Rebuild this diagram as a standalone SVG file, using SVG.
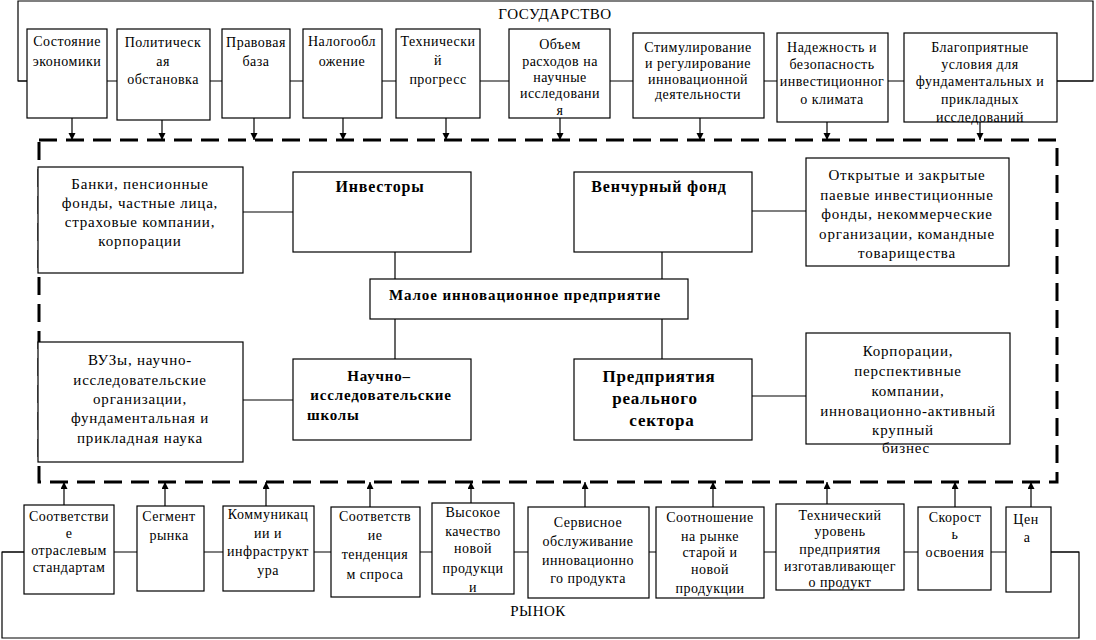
<svg xmlns="http://www.w3.org/2000/svg" width="1096" height="640" viewBox="0 0 1096 640">
<defs>
<marker id="ah" markerUnits="userSpaceOnUse" markerWidth="8" markerHeight="8" refX="7" refY="3.5" orient="auto">
<path d="M0,0 L7,3.5 L0,7 z" fill="#000"/>
</marker>
<style>
text{font-family:"Liberation Serif","Times New Roman",serif;fill:#000;text-anchor:middle}
.s{font-size:14px;letter-spacing:0.5px}
.m{font-size:15px;letter-spacing:0.8px}
.b{font-size:16px;font-weight:bold;letter-spacing:0.8px}
.bb{font-size:17px;font-weight:bold;letter-spacing:0.8px}
.t{font-size:15px;letter-spacing:0.5px}
rect{fill:#fff;stroke:#000;stroke-width:1.2}
rect.bg{stroke:none}
rect.ol{fill:none}
.c line,.c polyline{stroke:#000;stroke-width:1.2;fill:none}
.arr{marker-end:url(#ah)}
.dash{fill:none;stroke:#000;stroke-width:3;stroke-dasharray:18 9}
</style>
</defs>
<rect width="1096" height="640" class="bg"/>

<g id="connectors" class="c">
<polyline points="27,81 18,81 18,1 1093,1 1093,81 1057,81"/>
<line x1="18" y1="81" x2="1093" y2="81"/>
<polyline points="24,552 2,552 2,638 1079,638 1079,552 1051,552"/>
<line x1="2" y1="552" x2="1079" y2="552"/>
<line class="arr" x1="72" y1="118" x2="72" y2="140"/>
<line class="arr" x1="162" y1="120" x2="162" y2="140"/>
<line class="arr" x1="254" y1="118" x2="254" y2="140"/>
<line class="arr" x1="343" y1="118" x2="343" y2="140"/>
<line class="arr" x1="446" y1="118" x2="446" y2="140"/>
<line class="arr" x1="560" y1="118" x2="560" y2="140"/>
<line class="arr" x1="700" y1="118" x2="700" y2="140"/>
<line class="arr" x1="827" y1="122" x2="827" y2="140"/>
<line class="arr" x1="980" y1="122" x2="980" y2="140"/>
<line class="arr" x1="64" y1="505" x2="64" y2="482"/>
<line class="arr" x1="165" y1="506" x2="165" y2="482"/>
<line class="arr" x1="266" y1="506" x2="266" y2="482"/>
<line class="arr" x1="370" y1="507" x2="370" y2="482"/>
<line class="arr" x1="471" y1="503" x2="471" y2="482"/>
<line class="arr" x1="585" y1="507" x2="585" y2="482"/>
<line class="arr" x1="713" y1="507" x2="713" y2="482"/>
<line class="arr" x1="827" y1="504" x2="827" y2="482"/>
<line class="arr" x1="955" y1="507" x2="955" y2="482"/>
<line class="arr" x1="1031" y1="507" x2="1031" y2="482"/>
<line x1="243" y1="212" x2="293" y2="212"/>
<line x1="752" y1="211" x2="806" y2="211"/>
<line x1="395" y1="252" x2="395" y2="279"/>
<line x1="662" y1="252" x2="662" y2="279"/>
<line x1="395" y1="319" x2="395" y2="359"/>
<line x1="662" y1="319" x2="662" y2="359"/>
<line x1="243" y1="400" x2="293" y2="400"/>
<line x1="752" y1="396" x2="806" y2="396"/>
</g>

<g id="state-label"><text class="t" x="555" y="19">ГОСУДАРСТВО</text></g>
<g id="market-label"><text class="t" x="538" y="616">РЫНОК</text></g>

<g id="n-t1"><rect x="27" y="29" width="80" height="89"/><text class="s"><tspan x="67" y="46">Состояние</tspan><tspan x="67" y="66">экономики</tspan></text></g>
<g id="n-t2"><rect x="117" y="29" width="93" height="91"/><text class="s"><tspan x="163" y="47">Политическ</tspan><tspan x="163" y="66">ая</tspan><tspan x="163" y="84">обстановка</tspan></text></g>
<g id="n-t3"><rect x="222" y="29" width="68" height="89"/><text class="s"><tspan x="256" y="47">Правовая</tspan><tspan x="256" y="66">база</tspan></text></g>
<g id="n-t4"><rect x="303" y="29" width="79" height="89"/><text class="s"><tspan x="342" y="46">Налогообл</tspan><tspan x="342" y="66">ожение</tspan></text></g>
<g id="n-t5"><rect x="396" y="29" width="84" height="89"/><text class="s"><tspan x="438" y="46">Технически</tspan><tspan x="438" y="65">й</tspan><tspan x="438" y="84">прогресс</tspan></text></g>
<g id="n-t6"><rect x="509" y="29" width="101" height="89"/><text class="s"><tspan x="560" y="49">Объем</tspan><tspan x="560" y="65.5">расходов на</tspan><tspan x="560" y="82">научные</tspan><tspan x="560" y="98">исследовани</tspan><tspan x="560" y="114.5">я</tspan></text></g>
<g id="n-t7"><rect x="633" y="33" width="131" height="85"/><text class="s"><tspan x="698" y="52">Стимулирование</tspan><tspan x="698" y="68">и регулирование</tspan><tspan x="698" y="84">инновационной</tspan><tspan x="698" y="99">деятельности</tspan></text></g>
<g id="n-t8"><rect x="777" y="33" width="111" height="89"/><text class="s"><tspan x="832" y="52">Надежность и</tspan><tspan x="832" y="69">безопасность</tspan><tspan x="832" y="86">инвестиционног</tspan><tspan x="832" y="104">о климата</tspan></text></g>
<g id="n-t9"><rect class="bg" x="904" y="33" width="153" height="89"/><text class="s"><tspan x="980" y="52">Благоприятные</tspan><tspan x="980" y="69">условия для</tspan><tspan x="980" y="86">фундаментальных и</tspan><tspan x="980" y="104">прикладных</tspan><tspan x="980" y="122">исследований</tspan></text><rect class="ol" x="904" y="33" width="153" height="89"/></g>

<rect class="dash" x="39" y="140" width="1018" height="342"/>

<g id="n-banks"><rect x="38" y="167" width="205" height="106"/><text class="m"><tspan x="140" y="189">Банки, пенсионные</tspan><tspan x="140" y="208">фонды, частные лица,</tspan><tspan x="140" y="227">страховые компании,</tspan><tspan x="140" y="246">корпорации</tspan></text></g>
<g id="n-investors"><rect x="293" y="172" width="178" height="80"/><text class="b" x="380" y="192">Инвесторы</text></g>
<g id="n-venture"><rect x="574" y="172" width="178" height="80"/><text class="b" x="659" y="192">Венчурный фонд</text></g>
<g id="n-funds"><rect x="806" y="158" width="203" height="108"/><text class="m"><tspan x="907" y="180">Открытые и закрытые</tspan><tspan x="907" y="200">паевые инвестиционные</tspan><tspan x="907" y="219">фонды, некоммерческие</tspan><tspan x="907" y="239">организации, командные</tspan><tspan x="907" y="258">товарищества</tspan></text></g>
<g id="n-small"><rect x="370" y="279" width="318" height="40"/><text class="m" x="525" y="300" style="font-weight:bold;letter-spacing:0.9px">Малое  инновационное предприятие</text></g>
<g id="n-vuz"><rect x="38" y="342" width="205" height="120"/><text class="m"><tspan x="140" y="365">ВУЗы, научно-</tspan><tspan x="140" y="385">исследовательские</tspan><tspan x="140" y="404">организации,</tspan><tspan x="140" y="423">фундаментальная и</tspan><tspan x="140" y="443">прикладная наука</tspan></text></g>
<g id="n-schools"><rect x="293" y="359" width="178" height="81"/><text class="b" style="font-size:15px"><tspan x="379" y="381">Научно–</tspan><tspan x="381" y="400">исследовательские</tspan><tspan x="307" y="420" style="text-anchor:start">школы</tspan></text></g>
<g id="n-real"><rect x="574" y="359" width="178" height="81"/><text class="bb"><tspan x="659" y="382">Предприятия</tspan><tspan x="655" y="404">реального</tspan><tspan x="662" y="426">сектора</tspan></text></g>
<g id="n-corp"><rect x="806" y="333" width="204" height="111"/><text class="m"><tspan x="908" y="356">Корпорации,</tspan><tspan x="908" y="376">перспективные</tspan><tspan x="908" y="396">компании,</tspan><tspan x="908" y="416">инновационно-активный</tspan><tspan x="903" y="435">крупный</tspan><tspan x="906" y="453">бизнес</tspan></text></g>

<g id="n-b1"><rect x="24" y="505" width="90" height="89"/><text class="s"><tspan x="69" y="521">Соответстви</tspan><tspan x="69" y="538">е</tspan><tspan x="69" y="555">отраслевым</tspan><tspan x="69" y="572">стандартам</tspan></text></g>
<g id="n-b2"><rect x="137" y="506" width="67" height="85"/><text class="s"><tspan x="169" y="521">Сегмент</tspan><tspan x="169" y="540">рынка</tspan></text></g>
<g id="n-b3"><rect x="223" y="506" width="91" height="85"/><text class="s"><tspan x="268" y="519">Коммуникац</tspan><tspan x="268" y="538">ии и</tspan><tspan x="268" y="556">инфраструкт</tspan><tspan x="268" y="575">ура</tspan></text></g>
<g id="n-b4"><rect x="331" y="507" width="89" height="90"/><text class="s"><tspan x="375" y="521">Соответств</tspan><tspan x="375" y="540">ие</tspan><tspan x="375" y="559">тенденция</tspan><tspan x="375" y="579">м спроса</tspan></text></g>
<g id="n-b5"><rect x="432" y="503" width="82" height="91"/><text class="s"><tspan x="473" y="517">Высокое</tspan><tspan x="473" y="536">качество</tspan><tspan x="473" y="553">новой</tspan><tspan x="473" y="573">продукци</tspan><tspan x="473" y="592">и</tspan></text></g>
<g id="n-b6"><rect x="528" y="507" width="121" height="91"/><text class="s"><tspan x="588" y="527">Сервисное</tspan><tspan x="588" y="546">обслуживание</tspan><tspan x="588" y="565">инновационно</tspan><tspan x="588" y="583">го продукта</tspan></text></g>
<g id="n-b7"><rect class="bg" x="656" y="507" width="108" height="91"/><text class="s"><tspan x="710" y="522">Соотношение</tspan><tspan x="710" y="541">на рынке</tspan><tspan x="710" y="557">старой и</tspan><tspan x="710" y="574">новой</tspan><tspan x="710" y="593">продукции</tspan></text><rect class="ol" x="656" y="507" width="108" height="91"/></g>
<g id="n-b8"><rect x="776" y="504" width="128" height="86"/><text class="s"><tspan x="840" y="520">Технический</tspan><tspan x="840" y="536">уровень</tspan><tspan x="840" y="554">предприятия</tspan><tspan x="840" y="571">изготавливающег</tspan><tspan x="840" y="587">о продукт</tspan></text></g>
<g id="n-b9"><rect x="918" y="507" width="73" height="83"/><text class="s"><tspan x="955" y="522">Скорост</tspan><tspan x="955" y="539">ь</tspan><tspan x="955" y="557">освоения</tspan></text></g>
<g id="n-b10"><rect x="1006" y="507" width="45" height="85"/><text class="s"><tspan x="1026" y="524">Цен</tspan><tspan x="1027" y="542">а</tspan></text></g>
</svg>
